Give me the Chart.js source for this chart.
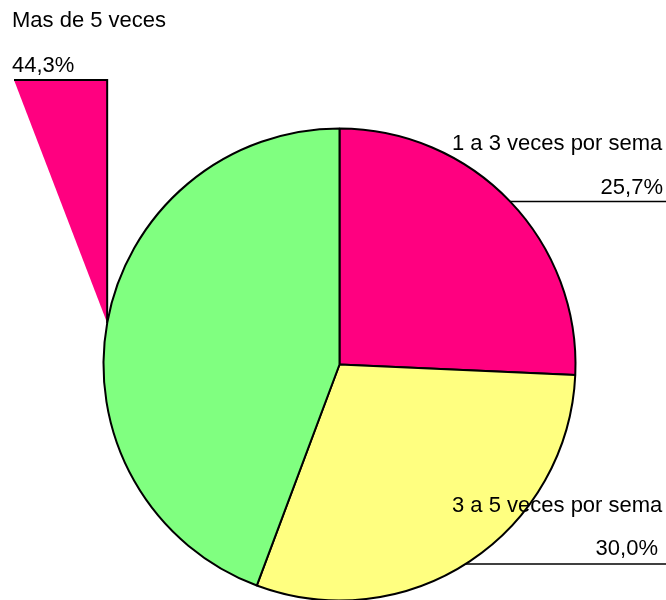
<!DOCTYPE html>
<html>
<head>
<meta charset="utf-8">
<script src="https://cdn.jsdelivr.net/npm/chart.js@4/dist/chart.umd.min.js"></script>
<style>
  html, body { margin: 0; padding: 0; background: #fff; }
  #wrap { width: 666px; height: 600px; position: relative; }
</style>
</head>
<body>
<div id="wrap"><canvas id="pieChart" width="666" height="600"></canvas></div>
<script>
// Data
const categories = ["1 a 3 veces por sema", "3 a 5 veces por sema", "Mas de 5 veces"];
const shares = [25.7, 30.0, 44.3];
const shareLabels = ["25,7%", "30,0%", "44,3%"];
const sliceColors = ["#FF0080", "#FFFF80", "#80FF80"];

// Where the label blocks sit (name baseline, value baseline, leader line y)
const labelLayout = [
  { nameX: 452, nameY: 150, nameAlign: "left", valX: 663, valY: 194, lineY: 201.5, kind: "line" },
  { nameX: 452, nameY: 512, nameAlign: "left", valX: 658, valY: 555, lineY: 564, kind: "line" },
  { nameX: 12, nameY: 27, nameAlign: "left", valX: 12, valY: 72, valAlign: "left", lineY: 80, kind: "wedge" },
];

const labelFont = "22px 'Liberation Sans', Arial, sans-serif";

// Draws the outside labels with their leader lines
const outsideLabels = {
  id: "outsideLabels",
  beforeDatasetsDraw(chart) {
    const ctx = chart.ctx;
    const arc = chart.getDatasetMeta(0).data[0];
    const cx = arc.x, cy = arc.y, r = arc.outerRadius;
    labelLayout.forEach((lay) => {
      if (lay.kind !== "wedge") return;
      // odd filled leader from the original export
      const tipY = 323;
      const tipX = cx - Math.sqrt(r * r - (tipY - cy) * (tipY - cy));
      ctx.save();
      ctx.fillStyle = sliceColors[0];
      ctx.beginPath();
      ctx.moveTo(14, lay.lineY);
      ctx.lineTo(tipX, lay.lineY);
      ctx.lineTo(tipX, tipY);
      ctx.closePath();
      ctx.fill();
      ctx.strokeStyle = "#000";
      ctx.lineWidth = 2;
      ctx.beginPath();
      ctx.moveTo(14, lay.lineY);
      ctx.lineTo(tipX, lay.lineY);
      ctx.lineTo(tipX, tipY);
      ctx.stroke();
      ctx.restore();
    });
  },
  afterDatasetsDraw(chart) {
    const ctx = chart.ctx;
    const arc = chart.getDatasetMeta(0).data[0];
    const cx = arc.x, cy = arc.y, r = arc.outerRadius;
    ctx.save();
    ctx.font = labelFont;
    ctx.fillStyle = "#000";
    ctx.textBaseline = "alphabetic";
    labelLayout.forEach((lay, i) => {
      if (lay.kind === "line") {
        const dy = lay.lineY - cy;
        const startX = cx + Math.sqrt(r * r - dy * dy);
        ctx.strokeStyle = "#000";
        ctx.lineWidth = 1.5;
        ctx.beginPath();
        ctx.moveTo(startX, lay.lineY);
        ctx.lineTo(chart.width, lay.lineY);
        ctx.stroke();
      }
      ctx.textAlign = lay.nameAlign;
      ctx.fillText(categories[i], lay.nameX, lay.nameY);
      ctx.textAlign = lay.valAlign || "right";
      ctx.fillText(shareLabels[i], lay.valX, lay.valY);
    });
    ctx.restore();
  },
};

const ctx = document.getElementById("pieChart").getContext("2d");
new Chart(ctx, {
  type: "pie",
  data: {
    labels: categories,
    datasets: [
      {
        data: shares,
        backgroundColor: sliceColors,
        borderColor: "#000",
        borderWidth: 2,
        radius: 236,
      },
    ],
  },
  options: {
    responsive: false,
    animation: false,
    layout: {
      padding: { left: 103, right: 90, top: 129, bottom: 0 },
    },
    plugins: {
      legend: { display: false },
      tooltip: { enabled: false },
    },
  },
  plugins: [outsideLabels],
});
</script>
</body>
</html>
